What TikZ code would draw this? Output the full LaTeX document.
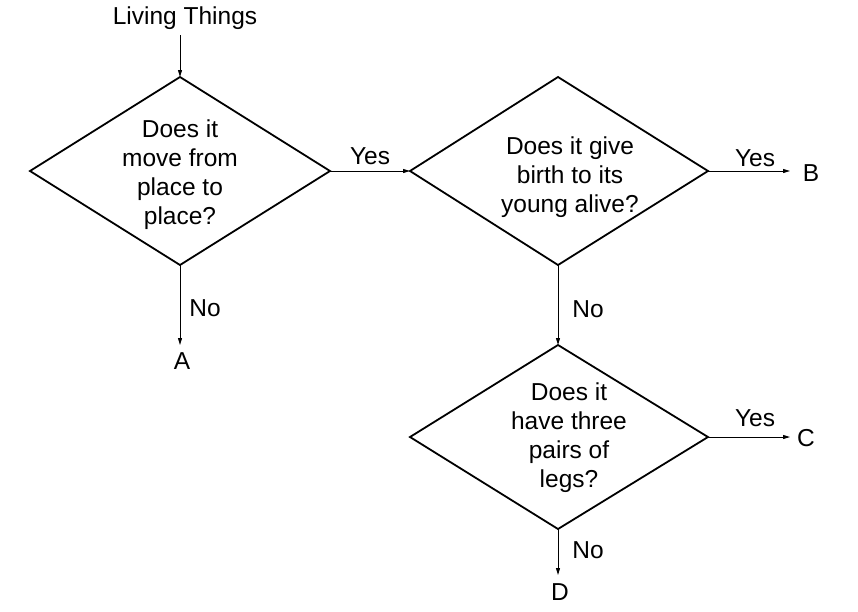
\documentclass[tikz,border=0pt]{standalone}
\usepackage{fontspec}
\setmainfont{Liberation Sans}
\usetikzlibrary{arrows.meta}
\begin{document}
\begin{tikzpicture}[x=1pt,y=-1pt,
  dia/.style={draw=black,line width=1.8pt,line join=miter},
  conn/.style={draw=black,line width=0.9pt,-{Triangle[length=7pt,width=4pt]}},
  lbl/.style={font=\fontsize{24.5}{29}\selectfont,inner sep=0pt,align=center},
]
\useasboundingbox (0,0) rectangle (858,611);
% diamonds
\draw[dia] (30,171) -- (180,77) -- (330,171) -- (180,265) -- cycle;
\draw[dia] (410,171) -- (558,77) -- (708,171) -- (558,265) -- cycle;
\draw[dia] (410,437) -- (558,345) -- (708,437) -- (558,529) -- cycle;
\coordinate (d1t) at (180,77); \coordinate (d1r) at (330,171); \coordinate (d1b) at (180,265);
\coordinate (d2l) at (410,171); \coordinate (d2r) at (708,171); \coordinate (d2b) at (558,265);
\coordinate (d3t) at (558,345); \coordinate (d3r) at (708,437); \coordinate (d3b) at (558,529);
\node[lbl] (q1) at (180,175) {Does it\\move from\\place to\\place?};
\node[lbl] (q2) at (570,177) {Does it give\\birth to its\\young alive?};
\node[lbl] (q3) at (569,438) {Does it\\have three\\pairs of\\legs?};
\node[lbl] (lt) at (185,18) {Living Things};
\coordinate (ltb) at (180,35);
\coordinate (A) at (180,345); \node[lbl] (At) at (182,361) {A};
\coordinate (B) at (790,171); \node[lbl] (Bt) at (811,173) {B};
\coordinate (C) at (790,437); \node[lbl] (Ct) at (806,438) {C};
\coordinate (D) at (558,575); \node[lbl] (Dt) at (560,592) {D};
\draw[conn] (ltb) -- (d1t);
\draw[conn] (d1r) -- node[lbl,above=6pt] {Yes} (d2l);
\draw[conn] (d2r) -- (B);
\node[lbl] at (755,158) {Yes};
\draw[conn] (d1b) -- (A);
\node[lbl] at (205,308) {No};
\draw[conn] (d2b) -- (d3t);
\node[lbl] at (588,309) {No};
\draw[conn] (d3r) -- (C);
\node[lbl] at (755,418) {Yes};
\draw[conn] (d3b) -- (D);
\node[lbl] at (588,550) {No};
\end{tikzpicture}
\end{document}
